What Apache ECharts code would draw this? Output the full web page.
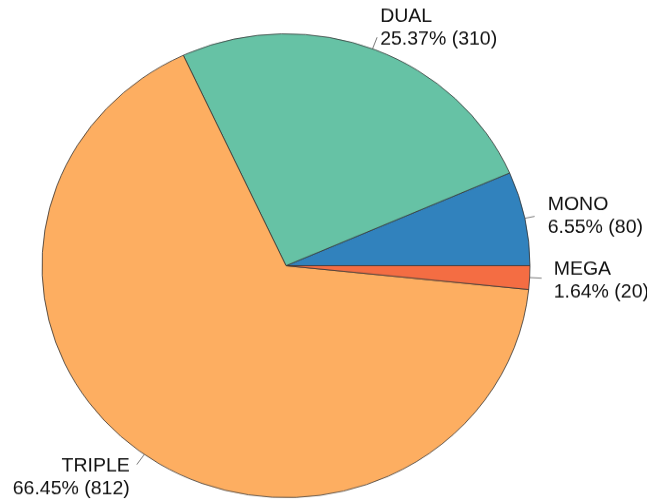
<!DOCTYPE html>
<html>
<head>
<meta charset="utf-8">
<script src="https://cdn.jsdelivr.net/npm/echarts@6/dist/echarts.min.js"></script>
<style>
  html, body { margin: 0; padding: 0; background: #fff; overflow: hidden; }
  /* the reference pie is slightly flattened, so squash the whole chart a little */
  #main { width: 647px; height: 525px; transform: scaleY(0.9505); transform-origin: 0 0; }
</style>
</head>
<body>
<div id="main"></div>
<script>
  const categories = ['MONO', 'DUAL', 'TRIPLE', 'MEGA']
  const counts = [80, 310, 812, 20]

  const palette = ['#3182bd', '#66c2a5', '#fdae61', '#f46d43']
  // per-label leader length, gap to text, and spacer lines to nudge the text up / down
  const lineLen = [10, 13, 13, 12]
  const textGap = [13, 3, 7, 12]
  const spaceAbove = [0, 0, 27, 5]
  const spaceBelow = [0, 19, 0, 0]

  const total = counts.reduce((a, b) => a + b, 0)

  const chart = echarts.init(document.getElementById('main'), null, { renderer: 'canvas' })

  chart.setOption({
    animation: false,
    series: [{
      type: 'pie',
      center: [286, 279.5],
      radius: 244,
      startAngle: 0,
      clockwise: false,
      avoidLabelOverlap: false,
      itemStyle: {
        borderColor: '#333',
        borderWidth: 0.8
      },
      label: {
        show: true,
        position: 'outside',
        fontFamily: 'Liberation Sans, Arial, Helvetica, sans-serif',
        fontSize: 19.5,
        lineHeight: 24,
        color: '#111',
        formatter: (p) => {
          const i = p.dataIndex
          const pct = (p.value / total * 100).toFixed(2)
          let s = p.name + '\n' + pct + '% (' + p.value + ')'
          if (spaceAbove[i]) s = '{up| }\n' + s
          if (spaceBelow[i]) s = s + '\n{dn| }'
          return s
        }
      },
      labelLine: {
        show: true,
        length2: 0,
        lineStyle: {
          color: '#777',
          width: 1
        }
      },
      emphasis: { disabled: true },
      data: categories.map((name, i) => ({
        name,
        value: counts[i],
        itemStyle: { color: palette[i] },
        label: {
          distanceToLabelLine: textGap[i],
          rich: {
            up: { lineHeight: spaceAbove[i], fontSize: 1 },
            dn: { lineHeight: spaceBelow[i], fontSize: 1 }
          }
        },
        labelLine: { length: lineLen[i] }
      }))
    }]
  })
</script>
</body>
</html>
